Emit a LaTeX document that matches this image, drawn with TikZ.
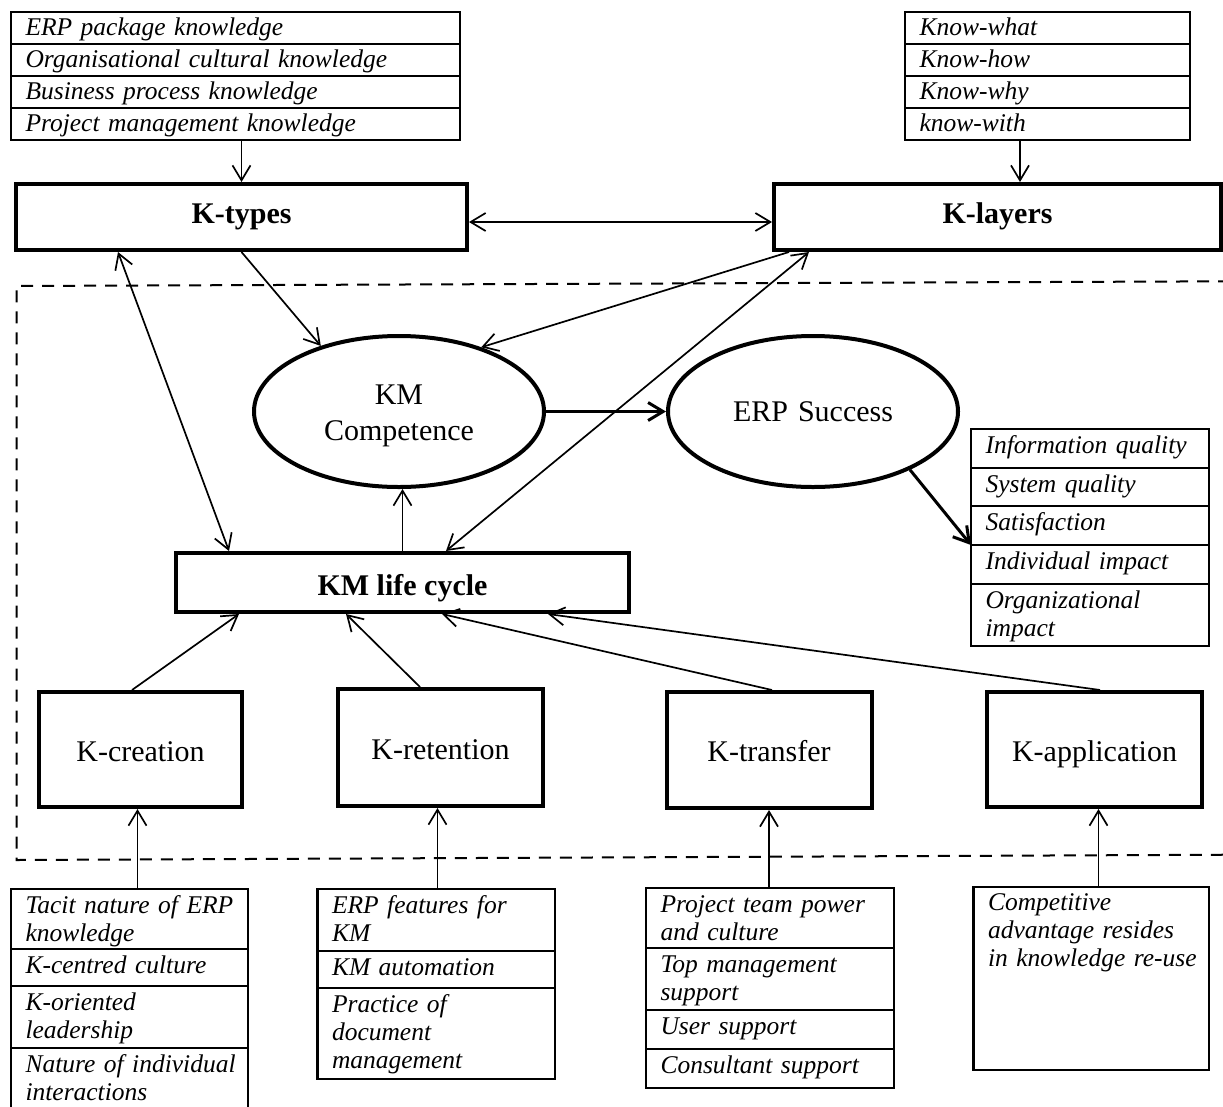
\documentclass[tikz,border=0pt]{standalone}
\usepackage{fontspec}
\setmainfont{Liberation Serif}
\usetikzlibrary{arrows.meta,shapes.geometric}
\newcommand{\nodefont}{\fontsize{30}{36}\selectfont}
\newcommand{\listfont}{\fontsize{25.5}{28}\selectfont\itshape\hyphenpenalty=10000\exhyphenpenalty=10000}
\begin{document}
\begin{tikzpicture}[x=1pt, y=-1pt,
  >={Straight Barb[length=15pt,width=18pt]},
  link/.style={line width=1.7pt},
  thicklink/.style={line width=3pt},
  kbox/.style={draw, rectangle, line width=4pt, inner sep=0pt, font=\nodefont},
  boldbox/.style={kbox, font=\nodefont\bfseries},
  oval/.style={draw, ellipse, line width=4pt, inner sep=0pt, minimum width=290pt,
    minimum height=151pt, text width=170pt, align=center, font=\nodefont},
  row/.style={draw, rectangle, line width=2.5pt, anchor=north, inner xsep=14.5pt,
    inner ysep=0pt, outer sep=0pt, align=left, font=\listfont, text width=#1},
  toprow/.style={row=#1, text height=23.5pt, text depth=8.5pt},
  frame/.style={line width=2pt, dash pattern=on 12pt off 9pt}
]
\useasboundingbox (0,0) rectangle (1223,1106);

% dashed frame around the life-cycle part (open on the right)
\draw[frame] (1230,281.3) -- (16.5,286) -- (16.5,860) -- (1230,854.7);

% knowledge types list
\node[toprow=420pt] (tl1) at (235.5,12) {ERP package knowledge};
\node[toprow=420pt] (tl2) at (tl1.south) {Organisational cultural knowledge};
\node[toprow=420pt] (tl3) at (tl2.south) {Business process knowledge};
\node[toprow=420pt] (tl4) at (tl3.south) {Project management knowledge};

% knowledge layers list
\node[toprow=256pt] (tr1) at (1047.5,12) {Know-what};
\node[toprow=256pt] (tr2) at (tr1.south) {Know-how};
\node[toprow=256pt] (tr3) at (tr2.south) {Know-why};
\node[toprow=256pt] (tr4) at (tr3.south) {know-with};

% main boxes
\node[boldbox, minimum width=451pt, minimum height=66pt, text height=12pt, text depth=0pt] (ktypes) at (241.5,217) {K-types};
\node[boldbox, minimum width=447pt, minimum height=66pt, text height=12pt, text depth=0pt] (klayers) at (997.5,217) {K-layers};

\node[oval, text height=21pt, text depth=36pt] (kmc) at (399,411.5) {KM\\Competence};
\node[oval, text height=20pt, text depth=0pt] (erp) at (813,411.5) {ERP Success};

\node[boldbox, minimum width=453pt, minimum height=59pt, text height=25pt, text depth=0pt] (kmlc) at (402.5,582.5) {KM life cycle};

\node[kbox, minimum width=203pt, minimum height=115pt, text height=23pt, text depth=0pt] (kcre) at (140.5,749.5) {K-creation};
\node[kbox, minimum width=205pt, minimum height=117pt, text height=23pt, text depth=0pt] (kret) at (440.5,747.5) {K-retention};
\node[kbox, minimum width=205pt, minimum height=116pt, text height=23pt, text depth=0pt] (ktra) at (769,750) {K-transfer};
\node[kbox, minimum width=215pt, minimum height=115pt, text height=23pt, text depth=0pt] (kapl) at (1094.5,749.5) {K-application};

% ERP success measures
\node[row=209pt, text height=24pt, text depth=15pt] (rl1) at (1090,429) {Information quality};
\node[row=209pt, text height=24pt, text depth=14pt] (rl2) at (rl1.south) {System quality};
\node[row=209pt, text height=24pt, text depth=15pt] (rl3) at (rl2.south) {Satisfaction};
\node[row=209pt, text height=24pt, text depth=15pt] (rl4) at (rl3.south) {Individual impact};
\node[row=209pt, text height=24pt, text depth=38pt] (rl5) at (rl4.south) {Organizational\\impact};

% factors of knowledge creation
\node[row=208pt, text height=24.5pt, text depth=35.5pt] (ll1) at (129.5,889) {\mbox{Tacit nature of ERP}\\knowledge};
\node[row=208pt, text height=24.5pt, text depth=12.5pt] (ll2) at (ll1.south) {K-centred culture};
\node[row=208pt, text height=24.5pt, text depth=37.5pt] (ll3) at (ll2.south) {K-oriented\\leadership};
\node[row=208pt, text height=24.5pt, text depth=42.5pt] (ll4) at (ll3.south) {\mbox{Nature of individual}\\interactions};

% factors of knowledge retention
\node[row=208.5pt, text height=24.5pt, text depth=37.5pt] (ml1) at (436.25,889) {\mbox{ERP features for}\\KM};
\node[row=208.5pt, text height=24.5pt, text depth=12.5pt] (ml2) at (ml1.south) {KM automation};
\node[row=208.5pt, text height=24.5pt, text depth=66.5pt] (ml3) at (ml2.south) {Practice of\\document\\management};

% factors of knowledge transfer
\node[row=219pt, text height=24.5pt, text depth=35.5pt] (tf1) at (770,888) {\mbox{Project team power}\\and culture};
\node[row=219pt, text height=24.5pt, text depth=37.5pt] (tf2) at (tf1.south) {\mbox{Top management}\\support};
\node[row=219pt, text height=24.5pt, text depth=14.5pt] (tf3) at (tf2.south) {User support};
\node[row=219pt, text height=24.5pt, text depth=14.5pt] (tf4) at (tf3.south) {\mbox{Consultant support}};

% factor of knowledge application
\node[row=206.5pt, text height=23pt, text depth=160pt] (kaplbox) at (1091.25,887) {Competitive\\\mbox{advantage resides}\\\mbox{in knowledge re-use}};

% connectors
\draw[->, link] (ktypes.north |- tl4.south) -- (ktypes.north);
\draw[->, link] ([xshift=-27.5pt]tr4.south) -- ([xshift=-27.5pt]tr4.south |- klayers.north);
\draw[<->, link] ([yshift=-5pt]ktypes.east) -- ([yshift=-5pt]klayers.west);
\draw[<->, link] ([xshift=104pt]ktypes.south west) -- ([xshift=55pt]kmlc.north west);
\draw[->, link] (ktypes.south) -- (kmc.140.8);
\draw[->, link] ([xshift=17pt]klayers.south west) -- (kmc.38.5);
\draw[<->, link] ([xshift=272pt]kmlc.north west) -- ([xshift=37pt]klayers.south west);
\draw[->, link] (kmlc.north) -- (kmlc.north |- kmc.south);
\draw[->, thicklink] (kmc.east) -- (erp.west);
\draw[->, thicklink] (erp.-31.6) -- (rl4.north west);

\draw[->, link] ([xshift=-8.5pt]kcre.north) -- ([xshift=65pt]kmlc.south west);
\draw[->, link] ([xshift=-20.5pt]kret.north) -- ([xshift=172pt]kmlc.south west);
\draw[->, link] ([xshift=3pt]ktra.north) -- ([xshift=268pt]kmlc.south west);
\draw[->, link] ([xshift=5.5pt]kapl.north) -- ([xshift=374pt]kmlc.south west);

\draw[->, link] ([xshift=-3pt]kcre.south |- ll1.north) -- ([xshift=-3pt]kcre.south);
\draw[->, link] ([xshift=-3pt]kret.south |- ml1.north) -- ([xshift=-3pt]kret.south);
\draw[->, link] (ktra.south |- tf1.north) -- (ktra.south);
\draw[->, link] ([xshift=4pt]kapl.south |- kaplbox.north) -- ([xshift=4pt]kapl.south);
\end{tikzpicture}
\end{document}
